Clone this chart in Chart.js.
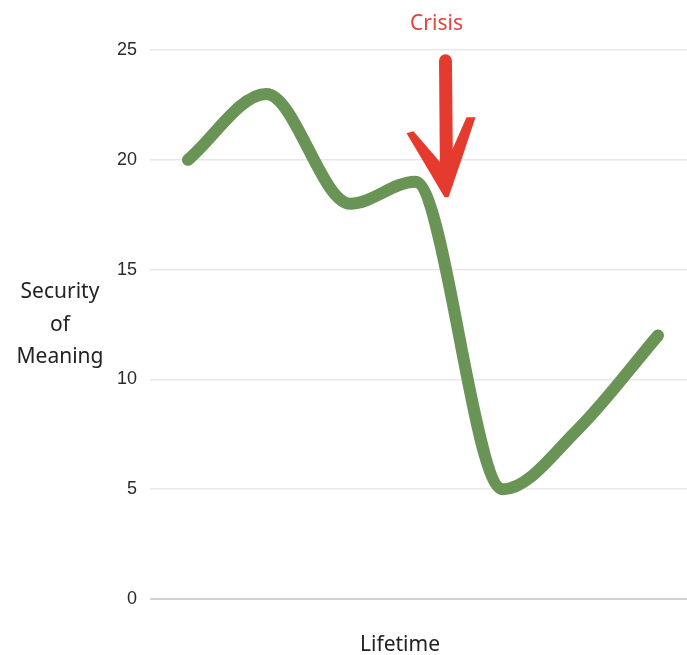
<!DOCTYPE html>
<html>
<head>
<meta charset="utf-8">
<script src="https://cdn.jsdelivr.net/npm/chart.js@4"></script>
<style>
html,body{margin:0;padding:0;background:#fff;overflow:hidden;}
#wrap{position:relative;width:687px;height:655px;}
</style>
</head>
<body>
<div id="wrap"><canvas id="c" width="687" height="655"></canvas></div>
<script>
const stages = [0, 1, 2.07, 2.9, 4.02, 4.97, 6];
const meaning = [20, 23, 18, 19, 5, 7.7, 12];
const yTicks = [0, 5, 10, 15, 20, 25];
const yTitle = ["Security", "of", "Meaning"];
const xTitle = "Lifetime";
const crisisLabel = "Crisis";
const crisisAt = 3.3;   // position on lifetime axis
const crisisTip = 18.3; // value where arrow points
const crisisTop = 24.6;

const hand = '"Noto Sans", "DejaVu Sans", sans-serif';

const annot = {
  id: 'annot',
  afterDatasetsDraw(chart) {
    const ctx = chart.ctx, xs = chart.scales.x, ys = chart.scales.y;
    ctx.save();
    ctx.fillStyle = '#222';
    ctx.font = '21px ' + hand;
    ctx.textAlign = 'center';
    ctx.textBaseline = 'middle';
    const cy = ys.getPixelForValue(12.5);
    yTitle.forEach((t, i) => ctx.fillText(t, 60, cy - 32 + i * 32.5));
    ctx.fillText(xTitle, 400, 645);
    const ax = xs.getPixelForValue(crisisAt);
    ctx.fillStyle = '#e0443a';
    ctx.font = '21px ' + hand;
    ctx.fillText(crisisLabel, ax - 10, 24);
    const tipY = ys.getPixelForValue(crisisTip);
    const topY = ys.getPixelForValue(crisisTop);
    ctx.strokeStyle = '#e53b2e';
    ctx.fillStyle = '#e53b2e';
    ctx.lineCap = 'round';
    ctx.lineJoin = 'round';
    ctx.lineWidth = 13;
    ctx.beginPath();
    ctx.moveTo(ax - 1, topY + 2);
    ctx.lineTo(ax, tipY - 14);
    ctx.stroke();
    ctx.beginPath();
    ctx.moveTo(ax - 40, tipY - 64);
    ctx.lineTo(ax - 33, tipY - 66);
    ctx.quadraticCurveTo(ax - 14, tipY - 44, ax - 2, tipY - 30);
    ctx.lineTo(ax + 20, tipY - 80);
    ctx.lineTo(ax + 29, tipY - 80);
    ctx.quadraticCurveTo(ax + 16, tipY - 40, ax + 2, tipY);
    ctx.lineTo(ax - 2, tipY);
    ctx.quadraticCurveTo(ax - 22, tipY - 34, ax - 40, tipY - 64);
    ctx.closePath();
    ctx.fill();
    ctx.restore();
  }
};

new Chart(document.getElementById('c'), {
  type: 'line',
  data: {
    datasets: [{
      data: stages.map((s, i) => ({ x: s, y: meaning[i] })),
      borderColor: '#6a9356',
      borderWidth: 12,
      borderCapStyle: 'round',
      borderJoinStyle: 'round',
      cubicInterpolationMode: 'monotone',
      pointRadius: 0,
      fill: false
    }]
  },
  options: {
    responsive: false,
    animation: false,
    layout: { padding: { top: 50, bottom: 56, left: 0, right: 0 } },
    plugins: { legend: { display: false }, tooltip: { enabled: false } },
    scales: {
      x: {
        type: 'linear',
        display: false,
        min: -0.485,
        max: 6.37
      },
      y: {
        min: 0,
        max: 25,
        afterFit(axis) { axis.width = 150; },
        afterBuildTicks(axis) { axis.ticks = yTicks.map(v => ({ value: v })); },
        border: { display: false },
        grid: {
          drawTicks: false,
          color: ctx => ctx.tick && ctx.tick.value === 0 ? '#d2d2d2' : '#e8e8e8',
          lineWidth: ctx => ctx.tick && ctx.tick.value === 0 ? 2 : 1.5
        },
        ticks: {
          padding: 13,
          color: '#2a2a2a',
          font: { family: '"Liberation Sans", Arial, sans-serif', size: 18 }
        }
      }
    }
  },
  plugins: [annot]
});
</script>
</body>
</html>
